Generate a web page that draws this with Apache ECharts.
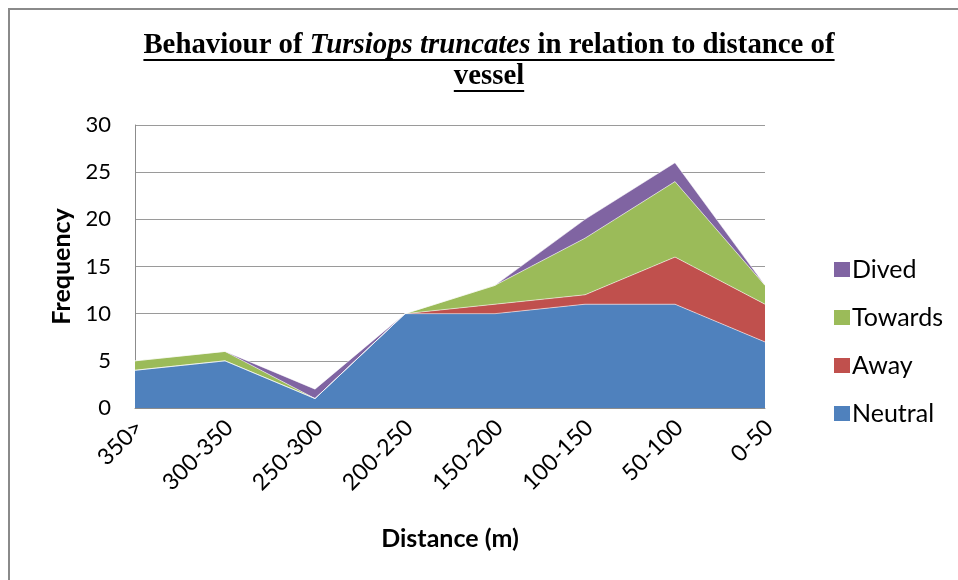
<!DOCTYPE html>
<html>
<head>
<meta charset="utf-8">
<script src="https://cdn.jsdelivr.net/npm/echarts@6/dist/echarts.min.js"></script>
<style>html,body{margin:0;padding:0;background:#fff}#c{width:958px;height:580px}</style>
</head>
<body>
<div id="c"></div>
<script>
const categories = ['350>', '300-350', '250-300', '200-250', '150-200', '100-150', '50-100', '0-50'];
const neutral = [4, 5, 1, 10, 10, 11, 11, 7];
const away    = [0, 0, 0, 0, 1, 1, 5, 4];
const towards = [1, 1, 0, 0, 2, 6, 8, 2];
const dived   = [0, 0, 1, 0, 0, 2, 2, 0];
const yTicks = [0, 5, 10, 15, 20, 25, 30];

const colors = {Neutral: '#4F81BD', Away: '#C0504D', Towards: '#9BBB59', Dived: '#8064A2'};
const sansFont = 'Lato';
const titleFont = '"Liberation Serif"';
const titleSize = 28.8;

const chart = echarts.init(document.getElementById('c'), null, {renderer: 'canvas'});

// measure title segments for underline
const cv = document.createElement('canvas').getContext('2d');
function tw(txt, style) { cv.font = style + ' ' + titleSize + 'px ' + titleFont; return cv.measureText(txt).width; }
const seg1 = 'Behaviour of ', seg2 = 'Tursiops truncates', seg3 = ' in relation to distance of', seg4 = 'vessel';
const line1W = tw(seg1, 'bold') + tw(seg2, 'italic bold') + tw(seg3, 'bold');
const line2W = tw(seg4, 'bold');
const cx = 489, y1 = 46, y2 = 77, ul1 = 60, ul2 = 91;

function mk(name, data) {
  return {
    name: name, type: 'line', stack: 'total', data: data,
    symbol: 'none', smooth: false,
    lineStyle: {width: 1, color: 'rgba(255,255,255,0.55)'},
    areaStyle: {color: colors[name], opacity: 1},
    itemStyle: {color: colors[name]},
    emphasis: {disabled: true}
  };
}

chart.setOption({
  animation: false,
  backgroundColor: '#fff',
  grid: {left: 135, right: 193, top: 125, bottom: 172},
  legend: {
    orient: 'vertical', left: 829, top: 252, itemGap: 23,
    itemWidth: 16, itemHeight: 15, icon: 'rect',
    data: ['Dived', 'Towards', 'Away', 'Neutral'],
    textStyle: {fontFamily: sansFont, fontSize: 25, color: '#000', padding: [0, 0, 0, -3]}
  },
  xAxis: {
    type: 'category', data: categories, boundaryGap: false,
    axisLine: {lineStyle: {color: '#8c8c8c', width: 1}},
    axisTick: {show: false},
    axisLabel: {rotate: 45, fontFamily: sansFont, fontSize: 23, color: '#000', margin: 20, interval: 0,
      padding: [0, -6, 0, 0]},
    name: 'Distance (m)', nameLocation: 'middle', nameGap: 118,
    nameTextStyle: {fontFamily: sansFont, fontSize: 25, fontWeight: 'bold', color: '#000'}
  },
  yAxis: {
    type: 'value', min: 0, max: 30, interval: 5,
    axisLine: {show: true, lineStyle: {color: '#8c8c8c', width: 1}},
    axisTick: {show: false},
    splitLine: {lineStyle: {color: '#9a9a9a', width: 1}},
    axisLabel: {fontFamily: sansFont, fontSize: 22, color: '#000', margin: 24,
      formatter: v => yTicks.includes(v) ? String(v) : ''},
    name: 'Frequency', nameLocation: 'middle', nameGap: 60,
    nameTextStyle: {fontFamily: sansFont, fontSize: 25, fontWeight: 'bold', color: '#000'}
  },
  graphic: [
    {type: 'rect', shape: {x: 9, y: 9, width: 1000, height: 1000}, style: {fill: 'none', stroke: '#8a8a8a', lineWidth: 2}, silent: true},
    {type: 'text', x: cx - line1W / 2, y: y1,
      style: {text: '{b|' + seg1 + '}{i|' + seg2 + '}{b|' + seg3 + '}', verticalAlign: 'middle',
        rich: {
          b: {fontFamily: titleFont, fontWeight: 'bold', fontSize: titleSize, fill: '#000'},
          i: {fontFamily: titleFont, fontWeight: 'bold', fontStyle: 'italic', fontSize: titleSize, fill: '#000'}
        }}},
    {type: 'line', shape: {x1: cx - line1W / 2, y1: ul1, x2: cx + line1W / 2, y2: ul1}, style: {stroke: '#000', lineWidth: 2}},
    {type: 'text', x: cx - line2W / 2, y: y2,
      style: {text: seg4, verticalAlign: 'middle', fontFamily: titleFont, fontWeight: 'bold', fontSize: titleSize, fill: '#000'}},
    {type: 'line', shape: {x1: cx - line2W / 2, y1: ul2, x2: cx + line2W / 2, y2: ul2}, style: {stroke: '#000', lineWidth: 2}}
  ],
  series: [mk('Neutral', neutral), mk('Away', away), mk('Towards', towards), mk('Dived', dived)]
});
</script>
</body>
</html>
